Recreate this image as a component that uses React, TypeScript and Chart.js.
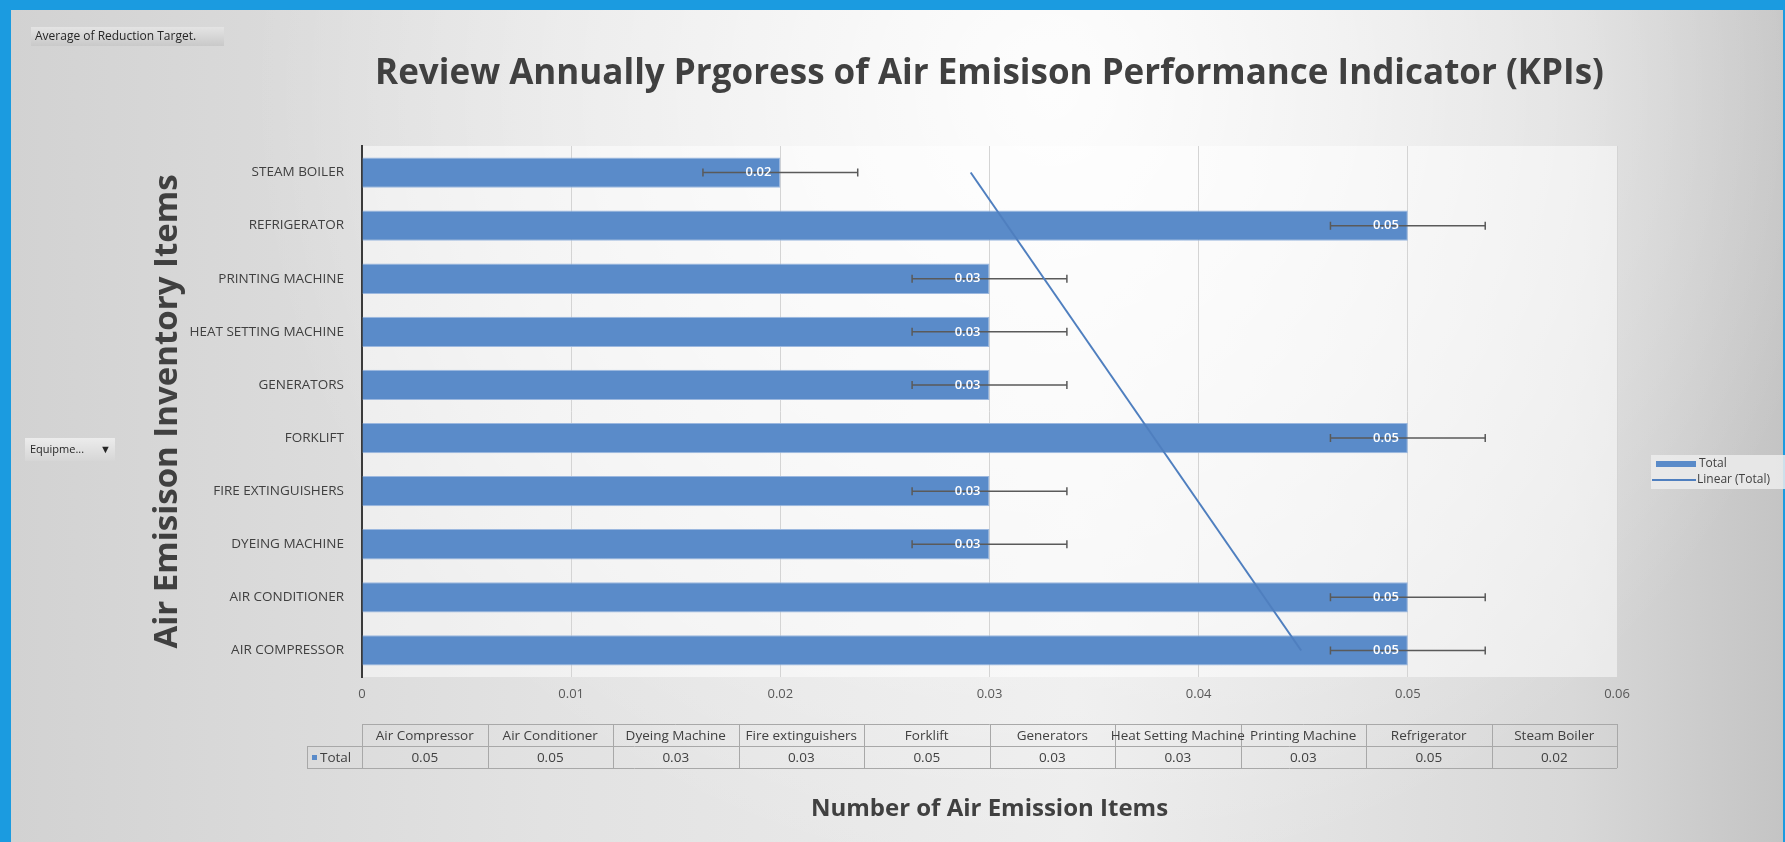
import React, { useEffect, useRef } from 'react';
import { Chart, registerables } from 'chart.js';

Chart.register(...registerables);

// ---- data ----
const categories = [
  'Air Compressor',
  'Air Conditioner',
  'Dyeing Machine',
  'Fire extinguishers',
  'Forklift',
  'Generators',
  'Heat Setting Machine',
  'Printing Machine',
  'Refrigerator',
  'Steam Boiler',
];
const totals = [0.05, 0.05, 0.03, 0.03, 0.05, 0.03, 0.03, 0.03, 0.05, 0.02];
const errorAmounts = [0.0037, 0.0037, 0.0037, 0.0037, 0.0037, 0.0037, 0.0037, 0.0037, 0.0037, 0.0037];
const trendCategories = ['Air Compressor', 'Steam Boiler'];
const trendValues = [0.0449, 0.0291];
const xTickLabels = ['0', '0.01', '0.02', '0.03', '0.04', '0.05', '0.06'];

const FONT = "'Open Sans', 'Noto Sans', sans-serif";
const BAR_COLOR = '#5a8bc9';
const LINE_COLOR = '#4f7fbf';

const backgroundPlugin = {
  id: 'bgPlugin',
  beforeDraw(chart: any) {
    const { ctx, width, height, chartArea: ca } = chart;
    ctx.save();
    ctx.fillStyle = '#1b9be0';
    ctx.fillRect(0, 0, width, height);
    const g = ctx.createLinearGradient(11, 0, width, 0);
    g.addColorStop(0, '#d2d2d2');
    g.addColorStop(0.3, '#e2e2e2');
    g.addColorStop(0.6, '#ececec');
    g.addColorStop(0.88, '#d8d8d8');
    g.addColorStop(1, '#c4c4c4');
    ctx.fillStyle = g;
    ctx.fillRect(11, 10, width - 13, height - 10);
    const r = ctx.createRadialGradient(1050, 90, 0, 1050, 90, 800);
    r.addColorStop(0, 'rgba(255,255,255,0.9)');
    r.addColorStop(0.5, 'rgba(255,255,255,0.45)');
    r.addColorStop(1, 'rgba(255,255,255,0)');
    ctx.fillStyle = r;
    ctx.fillRect(11, 10, width - 13, height - 10);
    ctx.fillStyle = 'rgba(255,255,255,0.5)';
    ctx.fillRect(ca.left, ca.top, ca.right - ca.left, ca.bottom - ca.top);
    ctx.restore();
  },
};

const errorLabelPlugin = {
  id: 'errLabels',
  afterDatasetDraw(chart: any, args: any) {
    if (args.index !== 0) return;
    const { ctx } = chart;
    const xs = chart.scales.x;
    const meta = args.meta;
    ctx.save();
    meta.data.forEach((el: any, i: number) => {
      const v = totals[i];
      const e = errorAmounts[i];
      const x1 = xs.getPixelForValue(v - e);
      const x2 = xs.getPixelForValue(v + e);
      const y = el.y;
      ctx.strokeStyle = '#5a5a5a';
      ctx.lineWidth = 1.5;
      ctx.beginPath();
      ctx.moveTo(x1, y);
      ctx.lineTo(x2, y);
      ctx.moveTo(x1, y - 4);
      ctx.lineTo(x1, y + 4);
      ctx.moveTo(x2, y - 4);
      ctx.lineTo(x2, y + 4);
      ctx.stroke();
    });
    ctx.font = `600 13px ${FONT}`;
    ctx.fillStyle = '#ffffff';
    ctx.textAlign = 'right';
    ctx.textBaseline = 'middle';
    meta.data.forEach((el: any, i: number) => {
      ctx.fillText(totals[i].toFixed(2), el.x - 9, el.y);
    });
    ctx.restore();
  },
};

const extrasPlugin = {
  id: 'extras',
  afterDraw(chart: any) {
    const { ctx, chartArea: ca } = chart;
    ctx.save();
    // ---- data table ----
    const n = categories.length;
    const colW = (ca.right - ca.left) / n;
    const y0 = ca.bottom + 47;
    const y1 = ca.bottom + 69;
    const y2 = ca.bottom + 91;
    const hx = ca.left - 55;
    ctx.strokeStyle = '#a8a8a8';
    ctx.lineWidth = 1;
    ctx.beginPath();
    ctx.moveTo(ca.left, y0 + 0.5);
    ctx.lineTo(ca.right, y0 + 0.5);
    ctx.moveTo(hx, y1 + 0.5);
    ctx.lineTo(ca.right, y1 + 0.5);
    ctx.moveTo(hx, y2 + 0.5);
    ctx.lineTo(ca.right, y2 + 0.5);
    ctx.moveTo(hx + 0.5, y1);
    ctx.lineTo(hx + 0.5, y2);
    for (let i = 0; i <= n; i++) {
      const x = Math.round(ca.left + i * colW) + 0.5;
      ctx.moveTo(x, y0);
      ctx.lineTo(x, y2);
    }
    ctx.stroke();
    ctx.fillStyle = '#404040';
    ctx.font = `13.5px ${FONT}`;
    ctx.textAlign = 'center';
    ctx.textBaseline = 'middle';
    categories.forEach((c, i) => {
      ctx.fillText(c, ca.left + (i + 0.5) * colW, (y0 + y1) / 2 + 1);
      ctx.fillText(totals[i].toFixed(2), ca.left + (i + 0.5) * colW, (y1 + y2) / 2 + 1);
    });
    ctx.fillStyle = BAR_COLOR;
    ctx.fillRect(hx + 5, (y1 + y2) / 2 - 2, 5, 5);
    ctx.fillStyle = '#404040';
    ctx.textAlign = 'left';
    ctx.fillText('Total', hx + 13, (y1 + y2) / 2 + 1);

    // ---- legend ----
    const lx = ca.right + 34;
    ctx.fillStyle = 'rgba(236,236,236,0.85)';
    ctx.fillRect(lx, 455, 140, 34);
    ctx.fillStyle = BAR_COLOR;
    ctx.fillRect(lx + 5, 461, 40, 6);
    ctx.strokeStyle = LINE_COLOR;
    ctx.lineWidth = 2;
    ctx.beginPath();
    ctx.moveTo(lx + 1, 480);
    ctx.lineTo(lx + 45, 480);
    ctx.stroke();
    ctx.fillStyle = '#404040';
    ctx.font = `12px ${FONT}`;
    ctx.textAlign = 'left';
    ctx.fillText('Total', lx + 48, 464);
    ctx.fillText('Linear (Total)', lx + 46, 480);

    // ---- field buttons ----
    const bg = ctx.createLinearGradient(0, 27, 0, 46);
    bg.addColorStop(0, '#e4e4e4');
    bg.addColorStop(1, '#c9c9c9');
    ctx.fillStyle = bg;
    ctx.fillRect(31, 27, 193, 19);
    ctx.fillStyle = '#262626';
    ctx.font = `12px ${FONT}`;
    ctx.fillText('Average of Reduction Target.', 35, 37);

    const bg2 = ctx.createLinearGradient(0, 438, 0, 461);
    bg2.addColorStop(0, '#ececec');
    bg2.addColorStop(1, '#d6d6d6');
    ctx.fillStyle = bg2;
    ctx.fillRect(25, 438, 90, 23);
    ctx.fillStyle = '#262626';
    ctx.font = `11px ${FONT}`;
    ctx.fillText('Equipme...', 30, 450);
    ctx.fillText('\u25BC', 100, 450);
    ctx.restore();
  },
};

export default function App() {
  const ref = useRef<HTMLCanvasElement>(null);
  useEffect(() => {
    document.body.style.margin = '0';
    const canvas = ref.current;
    if (!canvas) return;
    const chart = new Chart(canvas, {
      type: 'bar',
      data: {
        labels: categories,
        datasets: [
          {
            type: 'bar',
            label: 'Total',
            data: totals,
            backgroundColor: BAR_COLOR,
            borderColor: '#9cb8df',
            borderWidth: 1,
            barPercentage: 0.57,
            categoryPercentage: 1,
            order: 1,
            xAxisID: 'x',
            yAxisID: 'y',
          } as any,
          {
            type: 'line',
            label: 'Linear (Total)',
            data: trendCategories.map((c, i) => ({ x: trendValues[i], y: c })),
            borderColor: LINE_COLOR,
            borderWidth: 2,
            pointRadius: 0,
            fill: false,
            order: 0,
            indexAxis: 'y',
            xAxisID: 'x',
            yAxisID: 'y',
          } as any,
        ],
      },
      options: {
        indexAxis: 'y',
        responsive: false,
        animation: false,
        events: [],
        layout: { padding: { left: 10, right: 168, top: 12, bottom: 0 } },
        plugins: {
          legend: { display: false },
          tooltip: { enabled: false },
          title: {
            display: true,
            text: 'Review Annually Prgoress of Air Emisison Performance Indicator (KPIs)',
            fullSize: false,
            color: '#404040',
            font: { family: FONT, size: 35, weight: 'bold' },
            padding: { top: 41, bottom: 51 },
          },
        },
        scales: {
          x: {
            type: 'linear',
            position: 'bottom',
            min: 0,
            max: 0.06,
            ticks: {
              stepSize: 0.01,
              color: '#595959',
              font: { family: FONT, size: 13 },
              padding: 9,
              callback: (_v: any, i: number) => xTickLabels[i],
            },
            grid: { color: '#d4d4d4', drawTicks: false, lineWidth: 1 },
            border: { display: false },
            title: {
              display: true,
              text: 'Number of Air Emission Items',
              color: '#404040',
              font: { family: FONT, size: 24, weight: 'bold' },
              padding: { top: 0, bottom: 18 },
            },
            afterFit: (s: any) => {
              s.height = 165;
            },
          },
          y: {
            type: 'category',
            reverse: true,
            ticks: {
              color: '#404040',
              font: { family: FONT, size: 13.5 },
              padding: 10,
              callback: (v: any) => String(categories[v as number]).toUpperCase(),
            },
            grid: { display: false },
            border: { display: true, color: '#3a3a3a', width: 2 },
            title: {
              display: true,
              text: 'Air Emisison Inventory Items',
              color: '#404040',
              font: { family: FONT, size: 33, weight: 'bold' },
              padding: { top: 138, bottom: 0 },
            },
            afterFit: (s: any) => {
              s.width = 352;
            },
          },
        },
      } as any,
      plugins: [backgroundPlugin, errorLabelPlugin, extrasPlugin],
    });
    return () => chart.destroy();
  }, []);
  return (
    <div style={{ position: 'absolute', left: 0, top: 0, width: 1785, height: 842 }}>
      <canvas ref={ref} width={1785} height={842} style={{ display: 'block' }} />
    </div>
  );
}
